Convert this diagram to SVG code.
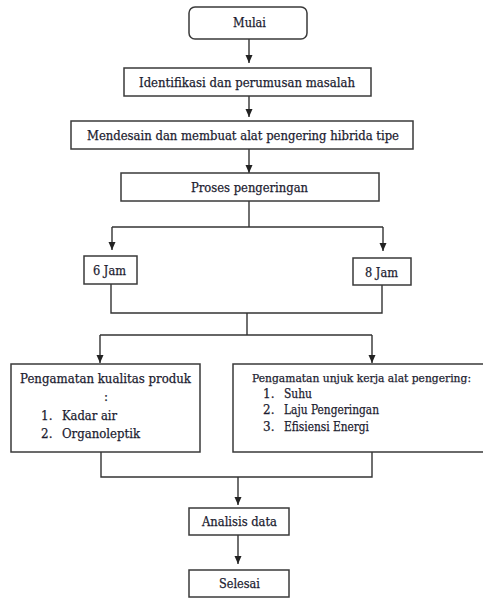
<svg xmlns="http://www.w3.org/2000/svg" width="483" height="598" viewBox="0 0 483 598">
<defs>
<style>
.box{fill:#fff;stroke:#3a3a3a;stroke-width:1.5}
.ln{fill:none;stroke:#333;stroke-width:1.4}
.t{font-family:"DejaVu Serif","Liberation Serif",serif;font-size:12px;fill:#1c1c30;stroke:#1c1c30;stroke-width:0.25}
</style>
<marker id="ah" viewBox="0 0 8 8" refX="8" refY="4" markerWidth="8" markerHeight="8" markerUnits="userSpaceOnUse" orient="auto">
<path d="M0,0.5 L8,4 L0,7.5 Z" fill="#222"/>
</marker>
</defs>
<rect width="483" height="598" fill="#fff"/>
<g id="connectors">
<line class="ln" x1="249" y1="39" x2="249" y2="63" marker-end="url(#ah)"/>
<line class="ln" x1="249" y1="96" x2="249" y2="117" marker-end="url(#ah)"/>
<line class="ln" x1="249" y1="149" x2="249" y2="173" marker-end="url(#ah)"/>
<polyline class="ln" points="249,201 249,227"/>
<polyline class="ln" points="112,227 383,227"/>
<line class="ln" x1="112" y1="227" x2="112" y2="250" marker-end="url(#ah)"/>
<line class="ln" x1="383" y1="227" x2="383" y2="251" marker-end="url(#ah)"/>
<polyline class="ln" points="111,284 111,313 382,313 382,285"/>
<polyline class="ln" points="247,313 247,335"/>
<polyline class="ln" points="100,335 372,335"/>
<line class="ln" x1="100" y1="335" x2="100" y2="363" marker-end="url(#ah)"/>
<line class="ln" x1="372" y1="335" x2="372" y2="363" marker-end="url(#ah)"/>
<polyline class="ln" points="101,452 101,477 372,477 372,452"/>
<line class="ln" x1="238" y1="477" x2="238" y2="505" marker-end="url(#ah)"/>
<line class="ln" x1="238" y1="535" x2="238" y2="564" marker-end="url(#ah)"/>
</g>
<g id="mulai">
<rect class="box" x="189" y="7" width="118" height="32" rx="6"/>
<text class="t" x="233" y="27" textLength="33" lengthAdjust="spacingAndGlyphs">Mulai</text>
</g>
<g id="identifikasi">
<rect class="box" x="124" y="68" width="247" height="28"/>
<text class="t" x="139" y="87" textLength="216" lengthAdjust="spacingAndGlyphs">Identifikasi dan perumusan masalah</text>
</g>
<g id="mendesain">
<rect class="box" x="71" y="121" width="342" height="28"/>
<text class="t" x="87" y="140" textLength="312" lengthAdjust="spacingAndGlyphs">Mendesain dan membuat alat pengering hibrida tipe</text>
</g>
<g id="proses">
<rect class="box" x="121" y="173" width="258" height="28"/>
<text class="t" x="191" y="192" textLength="117" lengthAdjust="spacingAndGlyphs">Proses pengeringan</text>
</g>
<g id="jam6">
<rect class="box" x="84" y="256" width="53" height="28"/>
<text class="t" x="93" y="275" textLength="33" lengthAdjust="spacingAndGlyphs">6 Jam</text>
</g>
<g id="jam8">
<rect class="box" x="353" y="258" width="58" height="27"/>
<text class="t" x="365" y="277" textLength="33" lengthAdjust="spacingAndGlyphs">8 Jam</text>
</g>
<g id="kualitas">
<rect class="box" x="11" y="364" width="189" height="88"/>
<text class="t" x="20" y="383" textLength="171" lengthAdjust="spacingAndGlyphs">Pengamatan kualitas produk</text>
<text class="t" x="104" y="401">:</text>
<text class="t" x="41" y="420">1.</text>
<text class="t" x="62" y="420" textLength="55" lengthAdjust="spacingAndGlyphs">Kadar air</text>
<text class="t" x="41" y="438">2.</text>
<text class="t" x="62" y="438" textLength="78" lengthAdjust="spacingAndGlyphs">Organoleptik</text>
</g>
<g id="unjukkerja">
<path class="box" d="M483,364 H233 V452 H483"/>
<text class="t" x="252" y="382" style="font-size:11.2px" textLength="219" lengthAdjust="spacingAndGlyphs">Pengamatan unjuk kerja alat pengering:</text>
<text class="t" x="263" y="398">1.</text>
<text class="t" x="284" y="398" textLength="28" lengthAdjust="spacingAndGlyphs">Suhu</text>
<text class="t" x="263" y="414">2.</text>
<text class="t" x="284" y="414" textLength="95" lengthAdjust="spacingAndGlyphs">Laju Pengeringan</text>
<text class="t" x="263" y="431">3.</text>
<text class="t" x="284" y="431" textLength="85" lengthAdjust="spacingAndGlyphs">Efisiensi Energi</text>
</g>
<g id="analisis">
<rect class="box" x="189" y="508" width="100" height="27"/>
<text class="t" x="202" y="526" textLength="75" lengthAdjust="spacingAndGlyphs">Analisis data</text>
</g>
<g id="selesai">
<rect class="box" x="189" y="570" width="100" height="27"/>
<text class="t" x="219" y="588" textLength="41" lengthAdjust="spacingAndGlyphs">Selesai</text>
</g>
</svg>
